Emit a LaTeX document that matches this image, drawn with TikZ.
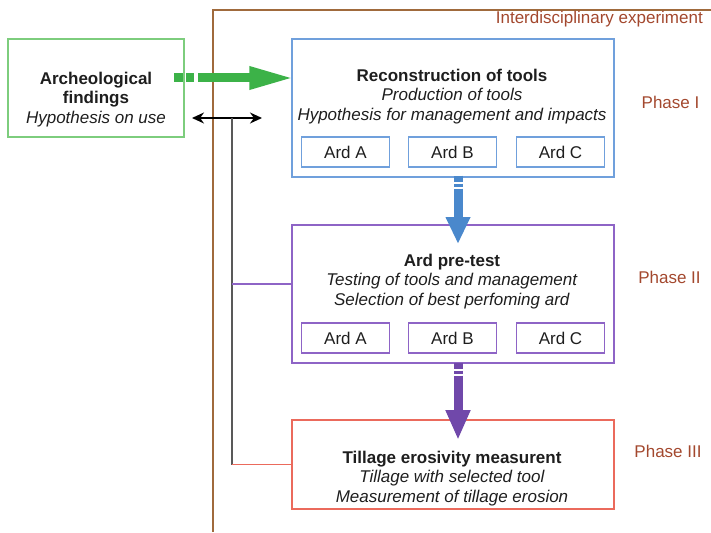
\documentclass[tikz,border=0pt]{standalone}
\usepackage{fontspec}
\setmainfont{Liberation Sans}
\usetikzlibrary{arrows.meta}
\usepackage{xcolor}
\definecolor{grnbox}{RGB}{125,205,125}
\definecolor{grnarr}{RGB}{60,178,72}
\definecolor{blubox}{RGB}{112,160,220}
\definecolor{bluarr}{RGB}{74,136,204}
\definecolor{purbox}{RGB}{142,100,198}
\definecolor{purarr}{RGB}{112,72,170}
\definecolor{redbox}{RGB}{235,106,92}
\definecolor{frm}{RGB}{160,106,60}
\definecolor{phs}{RGB}{163,72,46}
\definecolor{txt}{RGB}{30,30,30}

\begin{document}
\begin{tikzpicture}[x=1pt,y=-1pt,
  box/.style={draw,line width=1.4pt,inner sep=0pt},
  ard/.style={draw,line width=1.4pt,minimum width=88pt,minimum height=30pt,inner sep=0pt,
    text=txt,font=\fontsize{17}{20}\selectfont},
  lbl/.style={align=center,inner sep=0pt,text=txt,font=\fontsize{17}{19.5}\selectfont},
  phase/.style={inner sep=0pt,text=phs,font=\fontsize{17}{20}\selectfont},
  fat/.style={line width=9pt,line cap=butt}]
 \useasboundingbox (0,0) rectangle (711,532);
 \draw[frm,line width=2.2pt] (213,532) -- (213,10) -- (712,10);
 \node[phase,anchor=base east] (iexp) at (703,24) {Interdisciplinary experiment};

 % boxes
 \node[box,grnbox,minimum width=176pt,minimum height=98pt] (find) at (96,88) {};
 \node[box,blubox,minimum width=322pt,minimum height=138pt] (recon) at (453,108) {};
 \node[box,purbox,minimum width=322pt,minimum height=138pt] (pretest) at (453,294) {};
 \node[box,redbox,minimum width=322pt,minimum height=89pt] (tillage) at (453,464.5) {};

 \node[lbl] (findtxt) at (96,99.5) {\textbf{Archeological}\\\textbf{findings}\\\textit{Hypothesis on use}};
 \node[lbl] (recontxt) at (452,96.5) {\textbf{Reconstruction of tools}\\\textit{Production of tools}\\\textit{Hypothesis for management and impacts}};
 \node[lbl] (pretxt) at (452,281.5) {\textbf{Ard pre-test}\\\textit{Testing of tools and management}\\\textit{Selection of best perfoming ard}};
 \node[lbl] (tiltxt) at (452,478.5) {\textbf{Tillage erosivity measurent}\\\textit{Tillage with selected tool}\\\textit{Measurement of tillage erosion}};

 \node[ard,blubox] (ra) at (345.5,152) {\color{txt}Ard A};
 \node[ard,blubox] (rb) at (452.5,152) {\color{txt}Ard B};
 \node[ard,blubox] (rc) at (560.5,152) {\color{txt}Ard C};
 \node[ard,purbox] (pa) at (345.5,338) {\color{txt}Ard A};
 \node[ard,purbox] (pb) at (452.5,338) {\color{txt}Ard B};
 \node[ard,purbox] (pc) at (560.5,338) {\color{txt}Ard C};

 \node[phase] (ph1) at (670.5,102) {Phase I};
 \node[phase] (ph2) at (669.5,277) {Phase II};
 \node[phase] (ph3) at (668,451) {Phase III};

 % connectors
 \coordinate (gs) at (174,78);
 \coordinate (bt) at (458,244);
 \coordinate (pt) at (458,440);
 \coordinate (dl) at (192,118);
 \coordinate (dr) at (262,118);
 \coordinate (jn) at (232,118);
 \coordinate (pj) at (232,284);
 \draw[fat,grnarr,dash pattern=on 9pt off 3pt on 8pt off 4pt on 400pt,
   -{Triangle[width=21pt,length=45pt]}] (gs) -- ([xshift=3pt]gs -| recon.west);
 \draw[fat,bluarr,dash pattern=on 6pt off 2pt on 3pt off 2pt on 300pt,
   -{Triangle[width=23pt,length=27pt]}] ([yshift=2pt]recon.south -| bt) -- (bt);
 \draw[fat,purarr,dash pattern=on 6pt off 2pt on 3pt off 2pt on 300pt,
   -{Triangle[width=23pt,length=30pt]}] ([yshift=1pt]pretest.south -| pt) -- (pt);
 \draw[black,line width=1.5pt,{Stealth[length=12pt,width=11pt]}-{Stealth[length=12pt,width=11pt]}] (dl) -- (dr);
 \draw[black!65,line width=1.6pt] (jn) -- (jn |- tillage.west);
 \draw[purbox,line width=1.4pt] (pj) -- (pretest.west |- pj);
 \draw[redbox,line width=1.4pt] (jn |- tillage.west) -- (tillage.west);
\end{tikzpicture}
\end{document}
